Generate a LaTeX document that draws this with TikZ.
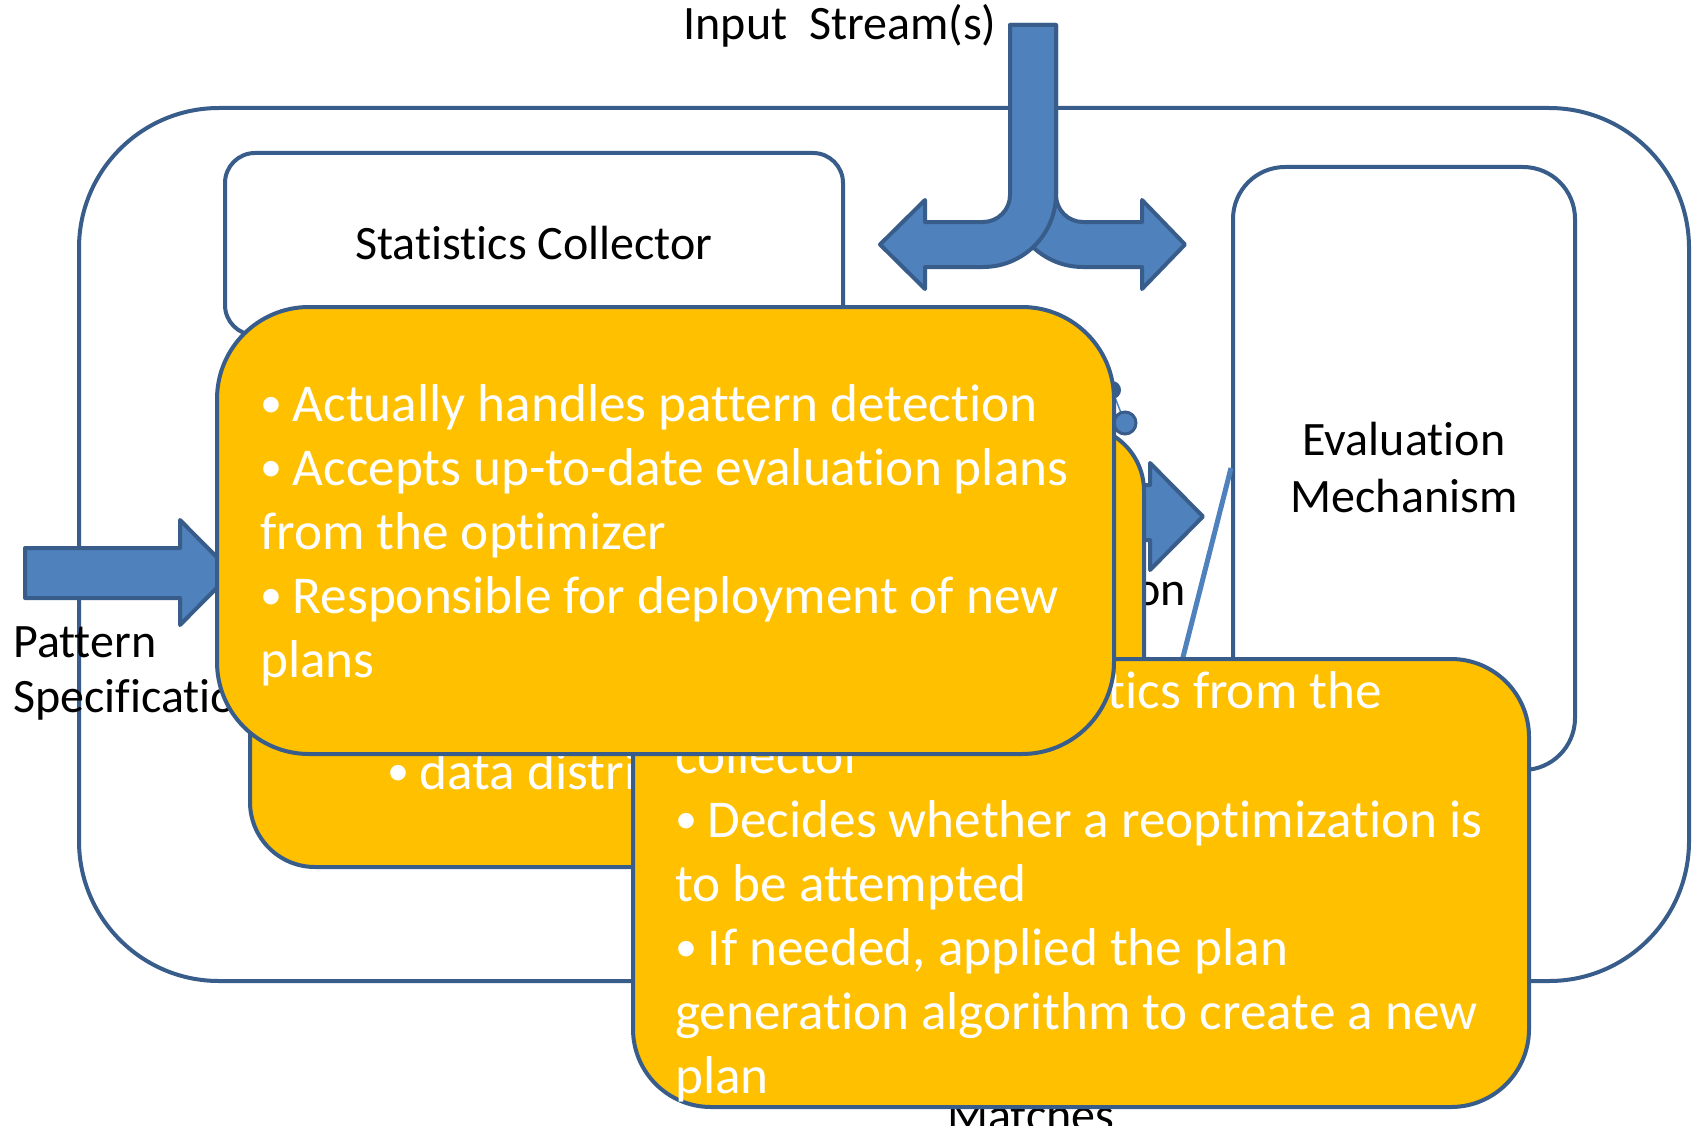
\documentclass[tikz,border=0pt]{standalone}
\usepackage{fontspec}
\setmainfont{Carlito}[RawFeature={-liga;-clig;-calt;-dlig}]
\usetikzlibrary{positioning}

\definecolor{boxline}{HTML}{385D8A}
\definecolor{arrowfill}{HTML}{4F81BD}
\definecolor{notefill}{HTML}{FFC000}

\newcommand{\notebullet}{\raisebox{0.06em}{\fontsize{44}{44}\selectfont •}\kern0.2em}

\tikzset{
  plainbox/.style={draw=boxline, line width=4pt, fill=white, inner sep=0pt},
  notebox/.style={draw=boxline, line width=4pt, fill=notefill, inner sep=0pt},
  bluearrow/.style={draw=boxline, line width=4pt, fill=arrowfill, line join=round},
  plaintext/.style={font=\fontsize{48}{59}\selectfont, inner sep=0pt},
  notetext/.style={font=\fontsize{53.2}{64}\selectfont, text=white, inner sep=0pt, anchor=base west},
}

\begin{document}
\begin{tikzpicture}[x=1pt, y=-1pt]
\useasboundingbox (0,0) rectangle (1696,1126);

% frame and the two white blocks
\node[plainbox, rounded corners=140pt, minimum width=1610pt, minimum height=873pt] (system) at (884,544.5) {};
\node[plainbox, rounded corners=30pt, minimum width=618pt, minimum height=182pt] (collector) at (534,244) {};
\node[plainbox, rounded corners=52pt, minimum width=342pt, minimum height=603pt] (evaluation) at (1404,468.5) {};

\node[plaintext, anchor=base] (collname) at (534,259) {Statistics Collector};
\node[plaintext, anchor=base] (evalname) at (1404,455) {Evaluation};
\node[plaintext, anchor=base] (evalname2) at (1404,512) {Mechanism};

% pattern input
\node[plaintext, anchor=base west] (patname) at (13,657) {Pattern};
\node[plaintext, anchor=base west] (patname2) at (13,712) {Specification};
\draw[bluearrow] (25,548) -- (180,548) -- (180,520) -- (232,572.5) -- (180,625) -- (180,598) -- (25,598) -- cycle;

% input streams
\node[plaintext, anchor=base] (streams) at (840,40) {Input~ Stream(s)};
\draw[bluearrow] (1010,25) -- (1056,25) -- (1056,195) arc[start angle=180, end angle=90, radius=27]
  -- (1142,222) -- (1142,200) -- (1185,244.5) -- (1142,289) -- (1142,267) -- (1083,267)
  arc[start angle=90, end angle=180, radius=73] -- cycle;
\draw[bluearrow] (1056,25) -- (1010,25) -- (1010,195) arc[start angle=0, end angle=90, radius=27]
  -- (925,222) -- (925,200) -- (880,244.5) -- (925,289) -- (925,267) -- (983,267)
  arc[start angle=90, end angle=0, radius=73] -- cycle;

% plan arrow into the evaluation block
\node[plaintext, anchor=base east] (onword) at (1186,605) {on};
\draw[bluearrow] (1100,485) -- (1150,485) -- (1150,463) -- (1203,516.5) -- (1150,570) -- (1150,540) -- (1100,540) -- cycle;

\coordinate (lineA) at (1181,665);
\coordinate (lineB) at (1231,468);
\draw[arrowfill, line width=5pt] (lineA) -- (lineB);

\node[plaintext, anchor=base west] (matches) at (947,1131) {Matches};

% yellow notes
\node[notebox, rounded corners=65pt, minimum width=894pt, minimum height=441pt] (collnote) at (697,646.5) {};
\node[notetext] (collline) at (387,789) {\notebullet data distri};

\coordinate (dotA) at (1112,390);
\coordinate (dotB) at (1125,423);
\draw[arrowfill, line width=1.5pt] (dotA) -- (dotB);
\fill[boxline] (dotA) circle (9);
\filldraw[fill=arrowfill, draw=boxline, line width=3pt] (dotB) circle (11);

\node[notebox, rounded corners=78pt, minimum width=896pt, minimum height=448pt] (optnote) at (1081,883) {};
\node[notetext, anchor=base east] (optline) at (1382,708) {tics from the};
\foreach \txt [count=\i] in {{collector},{\notebullet Decides whether a reoptimization is},{to be attempted},
  {\notebullet If needed, applied the plan},{generation algorithm to create a new},{plan}}
{
  \node[notetext] (optline\i) at (675,{773+64*(\i-1)}) {\txt};
}

\node[notebox, rounded corners=92pt, minimum width=897pt, minimum height=447pt] (evalnote) at (665.5,530.5) {};
\foreach \txt [count=\i] in {{\notebullet Actually handles pattern detection},{\notebullet Accepts up-to-date evaluation plans},
  {from the optimizer},{\notebullet Responsible for deployment of new},{plans}}
{
  \node[notetext] (evalline\i) at (260,{421+64*(\i-1)}) {\txt};
}

\end{tikzpicture}
\end{document}
